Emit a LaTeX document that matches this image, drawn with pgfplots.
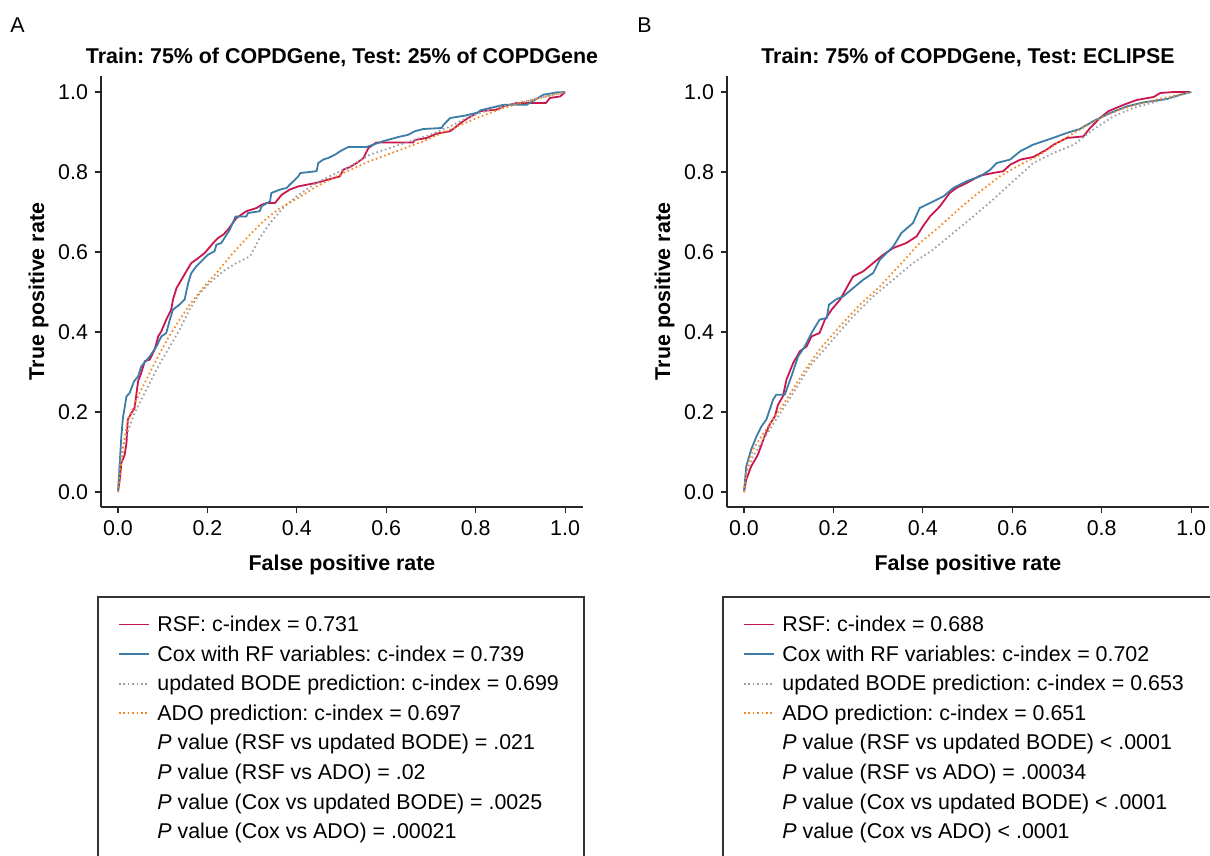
\documentclass[border=0pt]{standalone}
\usepackage{fontspec}
\setmainfont{Liberation Sans}
\usepackage{pgfplots}
\pgfplotsset{compat=1.18}

\definecolor{rsfred}{HTML}{C8174F}
\definecolor{coxblue}{HTML}{3B7DA8}
\definecolor{bodegrey}{HTML}{9E9E9E}
\definecolor{adoorange}{HTML}{F5871F}

\newcommand\fs{\fontsize{10.7}{12.8}\selectfont}

\tikzset{
  rsf/.style={rsfred, line width=0.9pt},
  cox/.style={coxblue, line width=0.9pt},
  bode/.style={bodegrey, line width=0.9pt, dash pattern=on 0.8pt off 1.4pt},
  ado/.style={adoorange, line width=0.9pt, dash pattern=on 0.8pt off 1.4pt},
}
\pgfplotsset{
  rocaxis/.style={
    scale only axis, width=241pt, height=215.5pt,
    xmin=-0.038, xmax=1.040, ymin=-0.0375, ymax=1.04,
    axis x line*=bottom, axis y line*=left,
    axis line style={line width=0.6pt, black!85},
    tick align=outside, major tick length=3pt,
    tick style={line width=0.6pt, black!85},
    xtick={0,0.2,0.4,0.6,0.8,1}, ytick={0,0.2,0.4,0.6,0.8,1},
    ticklabel style={font=\fs},
    /pgf/number format/.cd, fixed, fixed zerofill, precision=1, assume math mode=true,
    /pgfplots/.cd,
  },
}

\begin{document}
\frenchspacing
\begin{tikzpicture}
\useasboundingbox (0,0) rectangle (605pt,-428pt);

% ---------- panel A ----------
\begin{axis}[rocaxis, at={(50.5pt,-253.5pt)}, anchor=south west]
\addplot[rsf] coordinates {
(0,0) (0.004,0.031) (0.0075,0.0725) (0.015,0.093) (0.019,0.1225) (0.022,0.181)
(0.030,0.1975) (0.037,0.210) (0.045,0.277) (0.052,0.2975) (0.060,0.327) (0.071,0.331)
(0.082,0.356) (0.090,0.389) (0.097,0.402) (0.108,0.431) (0.119,0.456) (0.123,0.481)
(0.131,0.510) (0.142,0.531) (0.153,0.552) (0.164,0.5725) (0.175,0.581) (0.194,0.5975)
(0.213,0.6225) (0.224,0.635) (0.235,0.643) (0.246,0.656) (0.265,0.685) (0.287,0.702)
(0.310,0.710) (0.321,0.718) (0.332,0.7225) (0.351,0.7225) (0.366,0.743) (0.384,0.756)
(0.403,0.764) (0.444,0.773) (0.470,0.781) (0.496,0.789) (0.504,0.806) (0.519,0.8125)
(0.534,0.8225) (0.549,0.835) (0.560,0.860) (0.578,0.874) (0.660,0.874) (0.664,0.880)
(0.690,0.885) (0.713,0.896) (0.743,0.902) (0.757,0.914) (0.772,0.927) (0.787,0.9375)
(0.810,0.952) (0.847,0.956) (0.862,0.964) (0.892,0.9725) (0.957,0.9725) (0.966,0.985)
(0.989,0.989) (1,1)
};
\addplot[cox] coordinates {
(0,0) (0.0075,0.139) (0.011,0.185) (0.019,0.239) (0.026,0.2475) (0.036,0.277)
(0.045,0.289) (0.052,0.314) (0.071,0.339) (0.086,0.364) (0.097,0.389) (0.108,0.3975)
(0.116,0.431) (0.123,0.456) (0.137,0.468) (0.149,0.481) (0.157,0.5225) (0.164,0.5475)
(0.175,0.564) (0.190,0.581) (0.201,0.593) (0.216,0.602) (0.220,0.618) (0.231,0.6225)
(0.250,0.656) (0.263,0.689) (0.287,0.689) (0.291,0.6975) (0.317,0.702) (0.321,0.714)
(0.340,0.727) (0.343,0.7475) (0.362,0.756) (0.377,0.760) (0.384,0.768) (0.403,0.789)
(0.408,0.7975) (0.444,0.802) (0.448,0.8225) (0.459,0.831) (0.470,0.835) (0.485,0.843)
(0.500,0.854) (0.515,0.8625) (0.556,0.8625) (0.593,0.877) (0.627,0.8875) (0.649,0.893)
(0.664,0.902) (0.683,0.9075) (0.724,0.910) (0.728,0.918) (0.743,0.935) (0.776,0.941)
(0.806,0.949) (0.810,0.954) (0.862,0.968) (0.914,0.968) (0.951,0.993) (0.981,0.999)
(1,1)
};
\addplot[bode] coordinates {
(0,0) (0.004,0.0725) (0.015,0.131) (0.026,0.164) (0.037,0.1975) (0.056,0.239)
(0.086,0.306) (0.116,0.364) (0.138,0.406) (0.160,0.456) (0.183,0.4975) (0.205,0.5225)
(0.235,0.552) (0.265,0.5725) (0.295,0.589) (0.317,0.635) (0.340,0.6725) (0.369,0.710)
(0.399,0.739) (0.444,0.773) (0.489,0.7975) (0.519,0.814) (0.563,0.843) (0.608,0.860)
(0.653,0.877) (0.698,0.893) (0.743,0.914) (0.787,0.939) (0.832,0.956) (0.892,0.9725)
(0.951,0.9875) (1,1)
};
\addplot[ado] coordinates {
(0,0) (0.0075,0.0725) (0.015,0.139) (0.022,0.181) (0.034,0.210) (0.0485,0.2475)
(0.067,0.289) (0.086,0.331) (0.112,0.385) (0.138,0.431) (0.160,0.468) (0.190,0.510)
(0.220,0.5475) (0.257,0.5975) (0.295,0.643) (0.325,0.677) (0.362,0.710) (0.403,0.735)
(0.444,0.764) (0.504,0.7975) (0.563,0.827) (0.623,0.852) (0.683,0.877) (0.743,0.906)
(0.802,0.935) (0.862,0.960) (0.922,0.979) (1,1)
};
\end{axis}

% ---------- panel B ----------
\begin{axis}[rocaxis, at={(363.5pt,-253.5pt)}, anchor=south west]
\addplot[rsf] coordinates {
(0,0) (0.005,0.031) (0.016,0.064) (0.031,0.093) (0.046,0.139) (0.057,0.168)
(0.069,0.189) (0.076,0.218) (0.087,0.239) (0.095,0.281) (0.110,0.3225) (0.125,0.352)
(0.140,0.364) (0.151,0.389) (0.169,0.3975) (0.181,0.431) (0.196,0.456) (0.215,0.481)
(0.233,0.5175) (0.244,0.539) (0.267,0.552) (0.289,0.5725) (0.311,0.593) (0.334,0.610)
(0.363,0.6225) (0.386,0.639) (0.400,0.664) (0.416,0.689) (0.438,0.714) (0.460,0.7475)
(0.475,0.760) (0.498,0.7725) (0.528,0.791) (0.557,0.7975) (0.580,0.802) (0.595,0.818)
(0.618,0.831) (0.647,0.8375) (0.677,0.856) (0.692,0.868) (0.722,0.885) (0.759,0.889)
(0.774,0.910) (0.796,0.935) (0.815,0.952) (0.849,0.968) (0.878,0.980) (0.916,0.9875)
(0.931,0.9975) (0.961,1) (1,1)
};
\addplot[cox] coordinates {
(0,0) (0.005,0.064) (0.016,0.106) (0.028,0.139) (0.039,0.164) (0.050,0.181)
(0.065,0.231) (0.072,0.243) (0.091,0.243) (0.106,0.289) (0.121,0.339) (0.136,0.364)
(0.151,0.3975) (0.169,0.431) (0.185,0.435) (0.190,0.468) (0.205,0.481) (0.222,0.489)
(0.240,0.506) (0.267,0.531) (0.289,0.5475) (0.304,0.581) (0.334,0.614) (0.352,0.6475)
(0.378,0.6725) (0.393,0.710) (0.416,0.7225) (0.446,0.739) (0.468,0.760) (0.498,0.777)
(0.528,0.789) (0.551,0.806) (0.565,0.8225) (0.595,0.831) (0.618,0.852) (0.646,0.868)
(0.684,0.8825) (0.722,0.8975) (0.751,0.9075) (0.781,0.927) (0.819,0.9475) (0.856,0.964)
(0.893,0.974) (0.946,0.9825) (0.975,0.993) (1,1)
};
\addplot[bode] coordinates {
(0,0) (0.005,0.0475) (0.020,0.089) (0.043,0.131) (0.072,0.181) (0.110,0.2475)
(0.147,0.314) (0.192,0.3725) (0.244,0.439) (0.289,0.489) (0.334,0.531) (0.378,0.5725)
(0.423,0.606) (0.468,0.6475) (0.513,0.689) (0.557,0.731) (0.602,0.777) (0.647,0.8225)
(0.692,0.8475) (0.737,0.868) (0.781,0.906) (0.826,0.939) (0.871,0.960) (0.916,0.974)
(0.960,0.9875) (1,1)
};
\addplot[ado] coordinates {
(0,0) (0.009,0.0725) (0.020,0.106) (0.039,0.139) (0.065,0.181) (0.095,0.231)
(0.132,0.2975) (0.169,0.356) (0.214,0.414) (0.259,0.468) (0.304,0.514) (0.349,0.568)
(0.393,0.6225) (0.438,0.664) (0.483,0.710) (0.528,0.7515) (0.572,0.789) (0.617,0.818)
(0.662,0.843) (0.707,0.877) (0.751,0.906) (0.796,0.935) (0.841,0.956) (0.886,0.971)
(0.938,0.985) (1,1)
};
\end{axis}

% ---------- texts and legends, in pixel units ----------
\begin{scope}[x=0.5pt, y=-0.5pt]
\node[font=\fs, anchor=base west, inner sep=0] at (10,33) {A};
\node[font=\fs, anchor=base west, inner sep=0] at (637,33) {B};
\node[font=\fs\bfseries, anchor=base, inner sep=0] at (342,64) {Train: 75\% of COPDGene, Test: 25\% of COPDGene};
\node[font=\fs\bfseries, anchor=base, inner sep=0] at (968,64) {Train: 75\% of COPDGene, Test: ECLIPSE};
\node[font=\fs\bfseries, anchor=base, inner sep=0] at (342,570) {False positive rate};
\node[font=\fs\bfseries, anchor=base, inner sep=0] at (968,570) {False positive rate};
\node[font=\fs\bfseries, anchor=base, inner sep=0, rotate=90] at (44,291.5) {True positive rate};
\node[font=\fs\bfseries, anchor=base, inner sep=0, rotate=90] at (670,291.5) {True positive rate};

% legend A
\draw[black!80, line width=0.6pt] (98,856) -- (98,597) -- (584,597) -- (584,856);
\draw[rsf]  (119,624.5) -- (149,624.5);
\draw[cox]  (119,654.1) -- (149,654.1);
\draw[bode] (119,683.7) -- (149,683.7);
\draw[ado]  (119,713.3) -- (149,713.3);
\begin{scope}[every node/.style={font=\fs, anchor=base west, inner sep=0}]
\node at (157,631.5) {RSF: c-index = 0.731};
\node at (157,661.1) {Cox with RF variables: c-index = 0.739};
\node at (157,690.7) {updated BODE prediction: c-index = 0.699};
\node at (157,720.3) {ADO prediction: c-index = 0.697};
\node at (157,749.9) {\textit{P} value (RSF vs updated BODE) = .021};
\node at (157,779.5) {\textit{P} value (RSF vs ADO) = .02};
\node at (157,809.1) {\textit{P} value (Cox vs updated BODE) = .0025};
\node at (157,838.7) {\textit{P} value (Cox vs ADO) = .00021};
\end{scope}

% legend B
\draw[black!80, line width=0.6pt] (723,856) -- (723,597) -- (1212,597);
\draw[rsf]  (744,624.5) -- (774,624.5);
\draw[cox]  (744,654.1) -- (774,654.1);
\draw[bode] (744,683.7) -- (774,683.7);
\draw[ado]  (744,713.3) -- (774,713.3);
\begin{scope}[every node/.style={font=\fs, anchor=base west, inner sep=0}]
\node at (782,631.5) {RSF: c-index = 0.688};
\node at (782,661.1) {Cox with RF variables: c-index = 0.702};
\node at (782,690.7) {updated BODE prediction: c-index = 0.653};
\node at (782,720.3) {ADO prediction: c-index = 0.651};
\node at (782,749.9) {\textit{P} value (RSF vs updated BODE) < .0001};
\node at (782,779.5) {\textit{P} value (RSF vs ADO) = .00034};
\node at (782,809.1) {\textit{P} value (Cox vs updated BODE) < .0001};
\node at (782,838.7) {\textit{P} value (Cox vs ADO) < .0001};
\end{scope}
\end{scope}
\end{tikzpicture}
\end{document}
